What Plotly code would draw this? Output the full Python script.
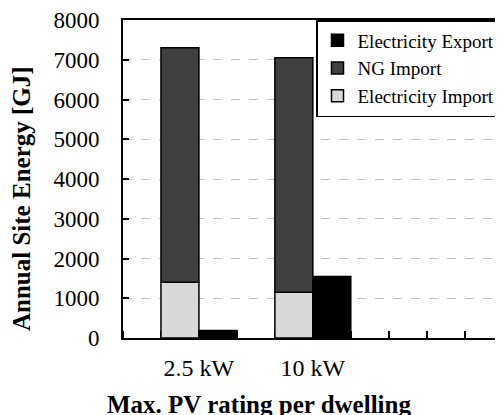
import plotly.graph_objects as go

categories = ["2.5 kW", "10 kW"]
elec_import = [1400, 1150]
ng_import = [5900, 5900]
elec_export = [190, 1550]
y_ticks = [0, 1000, 2000, 3000, 4000, 5000, 6000, 7000, 8000]

FONT = "Liberation Serif"
xpos = list(range(len(categories)))
slot = 1 / 3

fig = go.Figure()
fig.add_trace(go.Bar(
    x=xpos, y=elec_import, name="Electricity Import",
    width=slot, offset=-slot,
    marker=dict(color="#d9d9d9", line=dict(color="black", width=1.5)),
))
fig.add_trace(go.Bar(
    x=xpos, y=ng_import, base=elec_import, name="NG Import",
    width=slot, offset=-slot,
    marker=dict(color="#404040", line=dict(color="black", width=1.5)),
))
fig.add_trace(go.Bar(
    x=xpos, y=elec_export, name="Electricity Export",
    width=slot, offset=0,
    marker=dict(color="black", line=dict(color="black", width=1.5)),
))

fig.update_layout(
    width=495, height=407,
    margin=dict(l=115, r=0, t=11, b=77),
    barmode="overlay",
    plot_bgcolor="white", paper_bgcolor="white",
    font=dict(family=FONT, color="black", size=21),
    showlegend=True,
    legend=dict(
        x=1, xanchor="right", y=1.0, yanchor="top",
        traceorder="reversed",
        bgcolor="white", bordercolor="black", borderwidth=1.5,
        font=dict(family=FONT, size=19, color="black"),
        itemwidth=30, tracegroupgap=0,
    ),
    xaxis=dict(
        range=[-2 * slot, 2.652],
        tickmode="array", tickvals=xpos, ticktext=categories,
        ticks="", showgrid=False,
        showline=True, linecolor="black", linewidth=2, mirror=True,
        layer="below traces",
        ticklabelstandoff=7,
        ticklabeloverflow="allow",
        tickfont=dict(family=FONT, size=24),
        minor=dict(tick0=0, dtick=slot, ticks="inside", ticklen=7,
                   tickcolor="black", tickwidth=1.5, showgrid=False),
        zeroline=False,
    ),
    yaxis=dict(
        range=[0, 8000],
        tickmode="array", tickvals=y_ticks,
        ticks="inside", ticklen=6, tickcolor="black", tickwidth=1.5,
        showgrid=True, gridcolor="#bfbfbf", gridwidth=1, griddash="dash",
        showline=True, linecolor="black", linewidth=2, mirror=True,
        layer="below traces",
        ticklabelstandoff=17,
        ticklabeloverflow="allow",
        tickfont=dict(family=FONT, size=23),
        zeroline=False,
    ),
    annotations=[
        dict(text="<b>Annual Site Energy [GJ]</b>", textangle=-90,
             xref="paper", yref="paper", x=-0.27, y=0.44,
             xanchor="center", yanchor="middle", showarrow=False,
             font=dict(family=FONT, size=25)),
        dict(text="<b>Max. PV rating per dwelling</b>",
             xref="paper", yref="paper", x=0.36, y=-0.16,
             xanchor="center", yanchor="top", showarrow=False,
             font=dict(family=FONT, size=25)),
    ],
)

fig.write_html("out.html")
